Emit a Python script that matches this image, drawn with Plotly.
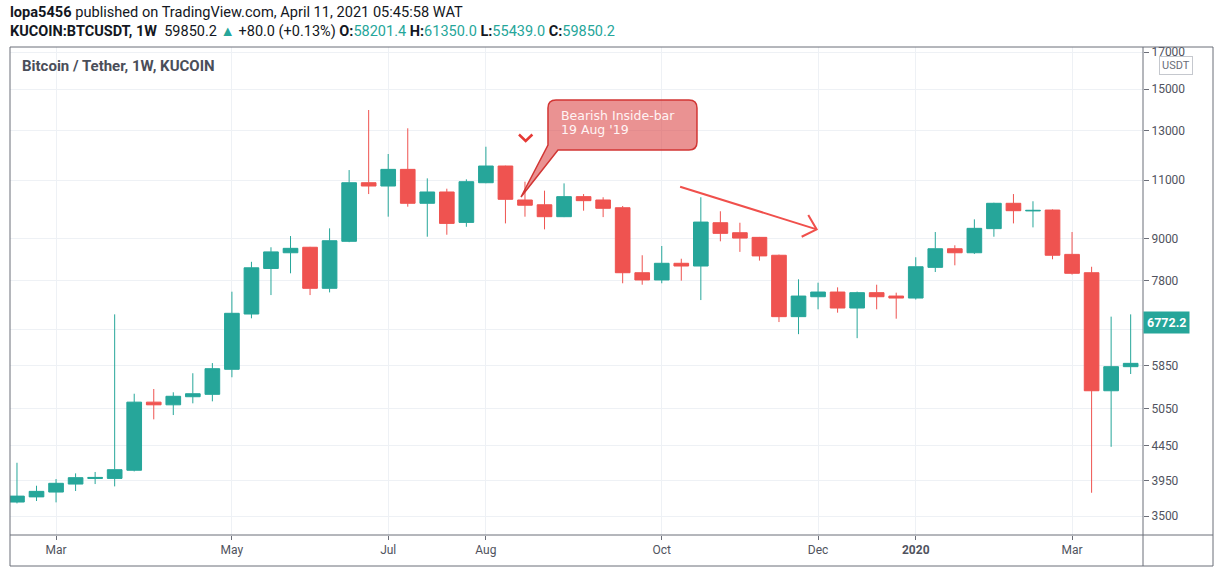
import math
import plotly.graph_objects as go

# ---------------- data (weekly candles, KUCOIN BTC/USDT) ----------------
dates = [
    "2019-02-18", "2019-02-25", "2019-03-04", "2019-03-11", "2019-03-18", "2019-03-25",
    "2019-04-01", "2019-04-08", "2019-04-15", "2019-04-22", "2019-04-29", "2019-05-06",
    "2019-05-13", "2019-05-20", "2019-05-27", "2019-06-03", "2019-06-10", "2019-06-17",
    "2019-06-24", "2019-07-01", "2019-07-08", "2019-07-15", "2019-07-22", "2019-07-29",
    "2019-08-05", "2019-08-12", "2019-08-19", "2019-08-26", "2019-09-02", "2019-09-09",
    "2019-09-16", "2019-09-23", "2019-09-30", "2019-10-07", "2019-10-14", "2019-10-21",
    "2019-10-28", "2019-11-04", "2019-11-11", "2019-11-18", "2019-11-25", "2019-12-02",
    "2019-12-09", "2019-12-16", "2019-12-23", "2019-12-30", "2020-01-06", "2020-01-13",
    "2020-01-20", "2020-01-27", "2020-02-03", "2020-02-10", "2020-02-17", "2020-02-24",
    "2020-03-02", "2020-03-09", "2020-03-16", "2020-03-23",
]
opens = [
    3671, 3736, 3798, 3903, 3978, 3979, 4091, 5160, 5113, 5256, 5299, 5771,
    6967, 8137, 8585, 8747, 7605, 8926, 10899, 10777, 11406, 10161, 10560, 9521,
    10899, 11537, 10276, 10110, 9707, 10394, 10276, 10008, 8020, 7824, 8282, 8205,
    9510, 9191, 9047, 8512, 6905, 7390, 7509, 7111, 7493, 7407, 7357, 8168,
    8703, 8585, 9320, 10161, 9900, 9930, 8537, 8020, 5364, 5823,
]
highs = [
    4197, 3881, 3970, 4048, 4067, 6959, 5310, 5396, 5336, 5694, 5895, 7518,
    8324, 8747, 9088, 8760, 9330, 11379, 13964, 12019, 13119, 11062, 10679, 11025,
    12321, 11550, 10937, 10608, 10875, 10486, 10372, 10068, 8512, 8785, 8412, 10372,
    9888, 9510, 9060, 8530, 7842, 7752, 7630, 7520, 7699, 7493, 8454, 9213,
    8806, 9620, 10180, 10486, 10232, 9950, 9213, 8185, 6905, 6959,
]
lows = [
    3654, 3684, 3667, 3812, 3903, 3872, 4075, 4866, 4938, 5139, 5174, 5616,
    6866, 7432, 8004, 7432, 7500, 8900, 10486, 9707, 10044, 9067, 9129, 9379,
    10880, 9488, 9707, 9297, 9694, 9908, 9694, 7737, 7699, 7737, 7806, 7307,
    8926, 8610, 8358, 6779, 6505, 7080, 6999, 6417, 7080, 6857, 7320, 8039,
    8225, 8550, 9067, 9488, 9360, 8396, 7970, 3789, 4431, 5679,
]
closes = [
    3746, 3807, 3913, 3989, 3992, 4099, 5160, 5113, 5264, 5310, 5783, 6984,
    8156, 8610, 8715, 7605, 8944, 10899, 10777, 11406, 10161, 10560, 9488, 10937,
    11537, 10300, 10094, 9707, 10394, 10252, 9989, 8020, 7824, 8282, 8205, 9531,
    9171, 9025, 8493, 6905, 7407, 7509, 7111, 7493, 7390, 7357, 8185, 8703,
    8585, 9330, 10161, 9908, 9918, 8512, 8004, 5364, 5823, 5889,
]

tick_dates = ["2019-03-04", "2019-05-06", "2019-07-01", "2019-08-05",
              "2019-10-07", "2019-12-02", "2020-01-06", "2020-03-02"]
tick_labels = ["Mar", "May", "Jul", "Aug", "Oct", "Dec", "<b>2020</b>", "Mar"]
price_ticks = [3500, 3950, 4450, 5050, 5850, 6600, 7800, 9000, 11000, 13000, 15000, 17000]
price_tick_labels = ["3500", "3950", "4450", "5050", "5850", "", "7800", "9000",
                     "11000", "13000", "15000", "17000"]   # 6600 is hidden by the price tag

x_range = ["2019-02-15 12:00", "2020-03-27 10:00"]
y_range = [3281, 17308]

last_price = 6772.2
callout_idx = 26                      # "Bearish Inside-bar 19 Aug '19"
trend_start = ("2019-10-13 14:00", 10752)
trend_end = ("2019-12-01 12:00", 9297)

GREEN = "#26a69a"
RED = "#ef5350"
TEXT = "#131722"
AXIS_TXT = "#50535e"
GRID = "#eef1f5"
BORDER = "#6b6e78"
FONT = "Liberation Sans Narrow, Roboto, sans-serif"
FONT_CALLOUT = "DejaVu Sans, Verdana, sans-serif"

fig = go.Figure()
fig.add_trace(go.Candlestick(
    x=dates, open=opens, high=highs, low=lows, close=closes,
    increasing=dict(line=dict(color=GREEN, width=1), fillcolor=GREEN),
    decreasing=dict(line=dict(color=RED, width=1), fillcolor=RED),
    whiskerwidth=0, showlegend=False, hoverinfo="skip",
))

L, R, T, B = 10, 79, 47, 37
W, H = 1222, 572
pw, ph = W - L - R, H - T - B


def px_x(px):
    return (px - L) / pw


def px_y(py):
    return (H - B - py) / ph


fig.update_layout(
    width=W, height=H,
    margin=dict(l=L, r=R, t=T, b=B, pad=0),
    paper_bgcolor="white", plot_bgcolor="white",
    font=dict(family=FONT, color=AXIS_TXT, size=12),
    boxgap=0.25, boxgroupgap=0,
    showlegend=False,
    xaxis=dict(
        type="date", range=x_range, rangeslider=dict(visible=False),
        tickvals=tick_dates, ticktext=tick_labels,
        showgrid=True, gridcolor=GRID, gridwidth=1,
        ticks="outside", ticklen=4, tickcolor=BORDER,
        showline=False, zeroline=False,
        tickfont=dict(family=FONT, size=12, color=AXIS_TXT),
    ),
    yaxis=dict(
        type="log", side="right",
        range=[math.log10(y_range[0]), math.log10(y_range[1])],
        tickvals=price_ticks, ticktext=price_tick_labels,
        showgrid=True, gridcolor=GRID, gridwidth=1,
        ticks="outside", ticklen=5, tickcolor=BORDER,
        showline=False, zeroline=False,
        tickfont=dict(family=FONT, size=12, color=AXIS_TXT),
    ),
)

shapes = []
# frame lines
x_right = px_x(1213)
y_bottom = px_y(566)
shapes.append(dict(type="rect", xref="paper", yref="paper", x0=0, x1=x_right, y0=y_bottom, y1=1,
                   line=dict(color=BORDER, width=1), layer="above"))
shapes.append(dict(type="line", xref="paper", yref="paper", x0=1, x1=1, y0=y_bottom, y1=1,
                   line=dict(color=BORDER, width=1), layer="above"))
shapes.append(dict(type="line", xref="paper", yref="paper", x0=0, x1=x_right, y0=0, y1=0,
                   line=dict(color=BORDER, width=1), layer="above"))

# callout bubble anchored on the 19 Aug '19 candle
ax_date = dates[callout_idx]
ax_val = opens[callout_idx]
shapes.append(dict(
    type="path", xref="x", yref="y", xsizemode="pixel", ysizemode="pixel",
    xanchor=ax_date, yanchor=ax_val,
    path="M -4 3 L 23 55 L 23 92 Q 23 100 31 100 L 164 100 Q 172 100 172 92 "
         "L 172 58 Q 172 50 164 50 L 33 50 Z",
    fillcolor="rgba(218,68,68,0.58)", line=dict(color="#d23634", width=1.5), layer="above",
))
# small down chevron above the candle
shapes.append(dict(
    type="path", xref="x", yref="y", xsizemode="pixel", ysizemode="pixel",
    xanchor=ax_date, yanchor=ax_val,
    path="M -6 65.5 L 0.7 59 L 7.4 65.5",
    line=dict(color="#e53935", width=2.5), layer="above",
))
# trend arrow
shapes.append(dict(type="line", xref="x", yref="y",
                   x0=trend_start[0], y0=trend_start[1], x1=trend_end[0], y1=trend_end[1],
                   line=dict(color="#f0504c", width=2), layer="above"))
shapes.append(dict(
    type="path", xref="x", yref="y", xsizemode="pixel", ysizemode="pixel",
    xanchor=trend_end[0], yanchor=trend_end[1],
    path="M -8.4 14.3 L 0 0 L -15 -7.4",
    line=dict(color="#f0504c", width=2), layer="above",
))
fig.update_layout(shapes=shapes)

ann = []
ann.append(dict(xref="paper", yref="paper", x=px_x(8), y=px_y(12), xanchor="left", yanchor="middle",
                showarrow=False,
                text="<b>lopa5456</b> published on TradingView.com, April 11, 2021 05:45:58 WAT",
                font=dict(family=FONT, size=14.6, color=TEXT)))
g = lambda s: f"<span style='color:{GREEN}'>{s}</span>"
ann.append(dict(xref="paper", yref="paper", x=px_x(8), y=px_y(32), xanchor="left", yanchor="middle",
                showarrow=False,
                text=("<b>KUCOIN:BTCUSDT, 1W</b>  59850.2 " + g("▲") + " +80.0 (+0.13%) "
                      "<b>O:</b>" + g("58201.4") + " <b>H:</b>" + g("61350.0") +
                      " <b>L:</b>" + g("55439.0") + " <b>C:</b>" + g("59850.2")),
                font=dict(family=FONT, size=14.5, color=TEXT)))
ann.append(dict(xref="paper", yref="paper", x=px_x(20), y=px_y(66), xanchor="left", yanchor="middle",
                showarrow=False, text="<b>Bitcoin / Tether, 1W, KUCOIN</b>",
                font=dict(family=FONT, size=15, color="#4a4e59")))
ann.append(dict(xref="paper", yref="paper", x=px_x(1176), y=px_y(66), xanchor="center", yanchor="middle",
                showarrow=False, text="USDT", bordercolor="#c5c8ce", borderwidth=1, borderpad=2,
                bgcolor="white", font=dict(family=FONT, size=11, color="#6a6d78")))
ann.append(dict(xref="paper", yref="y", x=1.0, y=math.log10(last_price), xanchor="left", yanchor="middle",
                showarrow=False, text=f"<b>{last_price}</b>", bgcolor=GREEN, borderpad=3,
                font=dict(family=FONT, size=12.5, color="white")))
ann.append(dict(xref="x", yref="y", x=ax_date, y=math.log10(ax_val), xanchor="left", yanchor="middle",
                xshift=34, yshift=84, showarrow=False, text="Bearish Inside-bar",
                font=dict(family=FONT_CALLOUT, size=12.5, color="#fff4f4")))
ann.append(dict(xref="x", yref="y", x=ax_date, y=math.log10(ax_val), xanchor="left", yanchor="middle",
                xshift=34, yshift=70, showarrow=False, text="19 Aug '19",
                font=dict(family=FONT_CALLOUT, size=12.5, color="#fff4f4")))
fig.update_layout(annotations=ann)

fig.write_html("out.html", config=dict(displayModeBar=False))
